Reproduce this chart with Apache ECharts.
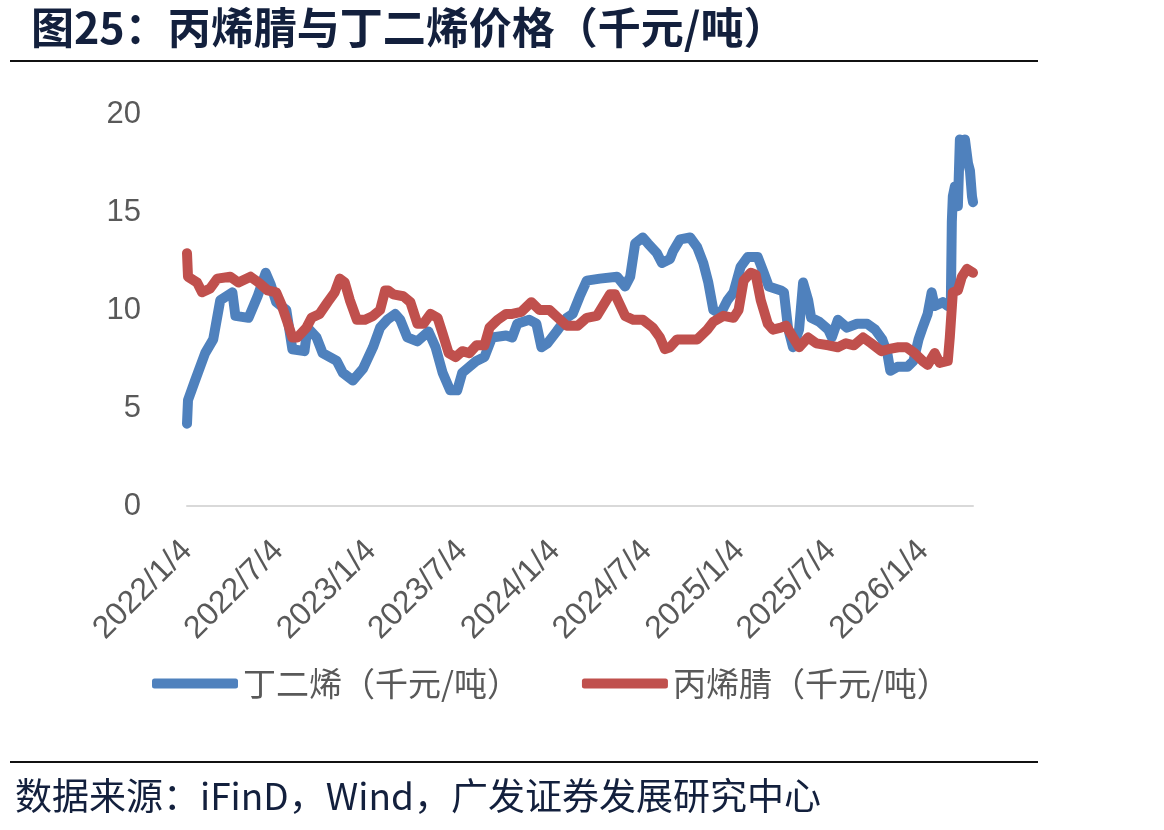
<!doctype html>
<html lang="zh">
<head>
  <meta charset="UTF-8">
  <title>丙烯腈与丁二烯价格</title>
  <script src="https://cdn.jsdelivr.net/npm/echarts@6/dist/echarts.min.js"></script>
  <style>
    * {
      margin: 0;
      padding: 0;
    }

    body {
      background: #fff;
    }

    #chart {
      width: 1164px;
      height: 830px;
    }
  </style>
</head>
<body>
<div id="chart"></div>
<script>
  // 丁二烯（千元/吨）
  const butadieneDates = [
    '2022-01-04', '2022-01-06', '2022-01-20', '2022-02-09', '2022-02-25', '2022-03-11', '2022-04-04', '2022-04-10',
    '2022-05-06', '2022-05-24', '2022-06-09', '2022-06-19', '2022-06-30', '2022-07-20', '2022-08-01', '2022-08-25',
    '2022-08-31', '2022-09-18', '2022-09-30', '2022-10-28', '2022-11-09', '2022-11-29', '2022-12-19', '2023-01-08',
    '2023-01-22', '2023-02-05', '2023-02-21', '2023-03-03', '2023-03-17', '2023-04-06', '2023-04-28', '2023-05-12',
    '2023-05-26', '2023-06-10', '2023-06-24', '2023-07-04', '2023-08-01', '2023-08-17', '2023-09-01', '2023-09-29',
    '2023-10-11', '2023-10-21', '2023-11-14', '2023-11-28', '2023-12-08', '2023-12-20', '2024-01-07', '2024-01-27',
    '2024-02-08', '2024-02-22', '2024-03-07', '2024-04-02', '2024-05-06', '2024-05-22', '2024-06-01', '2024-06-11',
    '2024-06-26', '2024-07-06', '2024-07-24', '2024-08-03', '2024-08-19', '2024-08-25', '2024-09-08', '2024-09-28',
    '2024-10-12', '2024-10-24', '2024-11-03', '2024-11-13', '2024-11-27', '2024-12-11', '2024-12-23', '2025-01-06',
    '2025-01-20', '2025-02-09', '2025-02-21', '2025-03-03', '2025-03-27', '2025-04-02', '2025-04-10', '2025-04-20',
    '2025-05-02', '2025-05-10', '2025-05-20', '2025-05-26', '2025-06-11', '2025-06-29', '2025-07-06', '2025-07-18',
    '2025-08-05', '2025-08-25', '2025-09-14', '2025-09-30', '2025-10-14', '2025-10-24', '2025-10-30', '2025-11-13',
    '2025-12-03', '2025-12-15', '2025-12-25', '2026-01-02', '2026-01-12', '2026-01-20', '2026-01-26', '2026-02-11',
    '2026-02-21', '2026-02-27', '2026-03-01', '2026-03-03', '2026-03-07', '2026-03-13', '2026-03-17', '2026-03-23',
    '2026-03-27', '2026-04-02', '2026-04-06', '2026-04-10', '2026-04-12'
  ]
  const butadieneValues = [
    4.2, 5.4, 6.4, 7.8, 8.5, 10.5, 10.9, 9.7,
    9.6, 10.7, 11.9, 11.3, 10.4, 10.0, 8.0, 7.9,
    9.1, 8.6, 7.8, 7.4, 6.8, 6.4, 7.0, 8.1,
    9.1, 9.5, 9.8, 9.5, 8.6, 8.4, 8.9, 8.1,
    6.8, 5.9, 5.9, 6.8, 7.4, 7.6, 8.6, 8.7,
    8.6, 9.3, 9.5, 9.3, 8.1, 8.3, 8.9, 9.6,
    9.8, 10.7, 11.5, 11.6, 11.7, 11.2, 11.7, 13.4,
    13.7, 13.4, 12.9, 12.4, 12.6, 13.0, 13.6, 13.7,
    13.2, 12.4, 11.4, 10.0, 9.8, 10.5, 10.9, 12.2,
    12.7, 12.7, 11.9, 11.2, 11.0, 10.9, 9.1, 8.1,
    9.0, 11.4, 10.5, 9.6, 9.4, 9.0, 8.6, 9.5,
    9.1, 9.3, 9.3, 9.0, 8.5, 7.8, 6.9, 7.1,
    7.1, 7.4, 8.5, 9.1, 9.8, 10.9, 10.2, 10.4,
    10.2, 10.3, 14.5, 15.8, 16.3, 15.3, 18.7, 18.5,
    18.7, 17.5, 17.1, 15.8, 15.5
  ]

  // 丙烯腈（千元/吨）
  const acrylonitrileDates = [
    '2022-01-04', '2022-01-06', '2022-01-24', '2022-02-03', '2022-02-19', '2022-03-05', '2022-03-31', '2022-04-16',
    '2022-05-10', '2022-05-26', '2022-06-13', '2022-06-30', '2022-07-10', '2022-07-22', '2022-08-01', '2022-08-11',
    '2022-08-29', '2022-09-08', '2022-09-24', '2022-10-10', '2022-10-24', '2022-11-03', '2022-11-13', '2022-11-23',
    '2022-12-07', '2022-12-23', '2023-01-08', '2023-01-22', '2023-02-01', '2023-02-07', '2023-02-17', '2023-03-09',
    '2023-03-23', '2023-04-06', '2023-04-18', '2023-05-02', '2023-05-16', '2023-05-26', '2023-06-07', '2023-06-21',
    '2023-07-04', '2023-07-18', '2023-08-01', '2023-08-17', '2023-08-27', '2023-09-12', '2023-09-29', '2023-10-11',
    '2023-10-29', '2023-11-18', '2023-12-04', '2023-12-24', '2024-01-10', '2024-01-27', '2024-02-18', '2024-03-07',
    '2024-03-27', '2024-04-22', '2024-05-02', '2024-05-22', '2024-06-07', '2024-06-26', '2024-07-16', '2024-07-30',
    '2024-08-09', '2024-08-19', '2024-09-02', '2024-09-22', '2024-10-12', '2024-11-01', '2024-11-13', '2024-12-03',
    '2024-12-23', '2025-01-02', '2025-01-12', '2025-01-26', '2025-02-05', '2025-02-15', '2025-03-01', '2025-03-11',
    '2025-03-27', '2025-04-06', '2025-04-20', '2025-05-02', '2025-05-20', '2025-06-05', '2025-06-29', '2025-07-18',
    '2025-08-03', '2025-08-19', '2025-09-06', '2025-09-22', '2025-10-12', '2025-10-26', '2025-11-15', '2025-12-01',
    '2025-12-17', '2026-01-02', '2026-01-12', '2026-01-26', '2026-02-05', '2026-02-21', '2026-02-25', '2026-03-03',
    '2026-03-13', '2026-03-21', '2026-03-31', '2026-04-12'
  ]
  const acrylonitrileValues = [
    12.9, 11.7, 11.4, 10.9, 11.1, 11.6, 11.7, 11.4,
    11.7, 11.4, 11.0, 10.9, 10.3, 9.4, 8.6, 8.6,
    9.1, 9.6, 9.8, 10.4, 10.9, 11.6, 11.4, 10.5,
    9.5, 9.5, 9.7, 10.0, 11.0, 11.0, 10.8, 10.7,
    10.4, 9.3, 9.3, 9.8, 9.6, 8.8, 7.8, 7.6,
    7.9, 7.8, 8.2, 8.2, 9.1, 9.5, 9.8, 9.8,
    9.9, 10.4, 10.0, 10.0, 9.6, 9.2, 9.2, 9.6,
    9.7, 10.8, 10.8, 9.7, 9.5, 9.5, 9.1, 8.6,
    8.0, 8.1, 8.5, 8.5, 8.5, 9.0, 9.4, 9.7,
    9.6, 10.0, 11.5, 11.9, 11.8, 10.5, 9.3, 9.0,
    9.1, 9.2, 8.6, 8.1, 8.6, 8.3, 8.2, 8.1,
    8.3, 8.2, 8.6, 8.3, 7.9, 8.0, 8.1, 8.1,
    7.8, 7.4, 7.2, 7.8, 7.3, 7.4, 8.6, 10.9,
    11.0, 11.7, 12.1, 11.9
  ]

  const xTickDates = ['2022-01-04', '2022-07-04', '2023-01-04', '2023-07-04', '2024-01-04',
    '2024-07-04', '2025-01-04', '2025-07-04', '2026-01-04']
  const xTickLabels = ['2022/1/4', '2022/7/4', '2023/1/4', '2023/7/4', '2024/1/4',
    '2024/7/4', '2025/1/4', '2025/7/4', '2026/1/4']
  const xMin = '2022-01-04'
  const xMax = '2026-04-12'

  // 日期 -> 天数（以 2022-01-04 为 0）
  const DAY = 24 * 3600 * 1000
  const t0 = Date.UTC(2022, 0, 4)

  function toDay(s) {
    const p = s.split('-')
    return Math.round((Date.UTC(+p[0], +p[1] - 1, +p[2]) - t0) / DAY)
  }

  function pairs(dates, values) {
    return dates.map((d, i) => [toDay(d), values[i]])
  }

  const tickDays = xTickDates.map(toDay)
  const cjk = '"Noto Sans CJK SC", "Liberation Sans", sans-serif'
  const latin = '"Liberation Sans", Arial, "Noto Sans CJK SC", sans-serif'

  const chart = echarts.init(document.getElementById('chart'))
  const option = {
    backgroundColor: '#fff',
    animation: false,
    title: [
      {
        text: '图25：丙烯腈与丁二烯价格（千元/吨）',
        left: 26,
        top: 1,
        textStyle: {fontFamily: cjk, fontSize: 43, fontWeight: 'bold', color: '#13203d'}
      },
      {
        text: '数据来源：iFinD，Wind，广发证券发展研究中心',
        left: 10,
        top: 772,
        textStyle: {fontFamily: cjk, fontSize: 37, fontWeight: 'normal', color: '#13203d'}
      }
    ],
    graphic: [
      {type: 'line', shape: {x1: 10, y1: 61, x2: 1038, y2: 61}, style: {stroke: '#111', lineWidth: 2}},
      {type: 'line', shape: {x1: 10, y1: 762, x2: 1038, y2: 762}, style: {stroke: '#111', lineWidth: 2}}
    ],
    legend: {
      top: 662,
      left: 147,
      itemWidth: 86,
      itemHeight: 10,
      itemGap: 62,
      icon: 'roundRect',
      textStyle: {fontFamily: cjk, fontSize: 33, color: '#595959'},
      data: ['丁二烯（千元/吨）', '丙烯腈（千元/吨）']
    },
    grid: {left: 187, right: 191, top: 114, bottom: 324, containLabel: false},
    xAxis: {
      type: 'value',
      min: toDay(xMin),
      max: toDay(xMax),
      axisLine: {show: true, onZero: false, lineStyle: {color: '#d9d9d9', width: 2}},
      axisTick: {show: false},
      splitLine: {show: false},
      axisLabel: {
        customValues: tickDays,
        rotate: 45,
        margin: 40,
        fontFamily: latin,
        fontSize: 32,
        color: '#595959',
        formatter: function (v) {
          const i = tickDays.indexOf(v)
          return i >= 0 ? xTickLabels[i] : ''
        }
      }
    },
    yAxis: {
      type: 'value',
      min: 0,
      max: 20,
      interval: 5,
      axisLine: {show: false},
      axisTick: {show: false},
      splitLine: {show: false},
      axisLabel: {margin: 46, fontFamily: latin, fontSize: 31, color: '#595959'}
    },
    series: [
      {
        name: '丁二烯（千元/吨）',
        type: 'line',
        showSymbol: false,
        color: '#4f81bd',
        lineStyle: {width: 10, color: '#4f81bd', cap: 'round', join: 'round'},
        data: pairs(butadieneDates, butadieneValues)
      },
      {
        name: '丙烯腈（千元/吨）',
        type: 'line',
        showSymbol: false,
        color: '#c0504d',
        lineStyle: {width: 10, color: '#c0504d', cap: 'round', join: 'round'},
        data: pairs(acrylonitrileDates, acrylonitrileValues)
      }
    ]
  }
  chart.setOption(option)
</script>
</body>
</html>
